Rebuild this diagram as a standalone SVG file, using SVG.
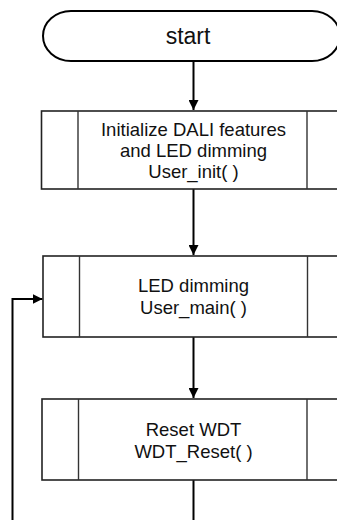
<svg xmlns="http://www.w3.org/2000/svg" width="337" height="520" viewBox="0 0 337 520">
  <style>
    .term { fill: #ffffff; stroke: #000000; stroke-width: 2; }
    .box { fill: #ffffff; stroke: #222222; stroke-width: 1.6; }
    .bar { stroke: #333333; stroke-width: 1.4; fill: none; }
    .wire { fill: none; stroke: #000000; stroke-width: 2; }
    .lbl { font-family: "Liberation Sans", Arial, sans-serif; font-size: 18.5px; fill: #111111; text-anchor: middle; }
    .big { font-size: 23px; }
  </style>
  <defs>
    <marker id="arrow" viewBox="0 0 10 10" refX="10" refY="5" markerWidth="10" markerHeight="10" markerUnits="userSpaceOnUse" orient="auto">
      <path d="M0,0 L10,5 L0,10 Z" fill="#000000"/>
    </marker>
  </defs>

  <!-- connectors -->
  <g id="connectors">
    <line class="wire" x1="193.5" y1="61" x2="193.5" y2="110" marker-end="url(#arrow)"/>
    <line class="wire" x1="193.5" y1="189" x2="193.5" y2="255" marker-end="url(#arrow)"/>
    <line class="wire" x1="193.5" y1="337" x2="193.5" y2="398" marker-end="url(#arrow)"/>
    <line class="wire" x1="193.5" y1="480" x2="193.5" y2="520"/>
    <polyline class="wire" points="12.5,520 12.5,299 42.5,299" marker-end="url(#arrow)"/>
  </g>

  <!-- start terminator -->
  <g id="start">
    <path class="term" d="M71,11 L312,11 A28,25 0 0 1 312,61 L71,61 A28,25 0 0 1 71,11 Z"/>
    <text class="lbl big" x="188" y="44">start</text>
  </g>

  <!-- predefined process: User_init -->
  <g id="user-init">
    <rect class="box" x="41.5" y="111" width="304" height="78"/>
    <line class="bar" x1="78" y1="111" x2="78" y2="189"/>
    <line class="bar" x1="307" y1="111" x2="307" y2="189"/>
    <text class="lbl" x="193.5" y="136">Initialize DALI features</text>
    <text class="lbl" x="193.5" y="157">and LED dimming</text>
    <text class="lbl" x="193.5" y="178">User_init( )</text>
  </g>

  <!-- predefined process: User_main -->
  <g id="user-main">
    <rect class="box" x="43" y="256" width="304" height="81"/>
    <line class="bar" x1="79.5" y1="256" x2="79.5" y2="337"/>
    <line class="bar" x1="307.5" y1="256" x2="307.5" y2="337"/>
    <text class="lbl" x="193.5" y="292">LED dimming</text>
    <text class="lbl" x="193.5" y="314">User_main( )</text>
  </g>

  <!-- predefined process: WDT_Reset -->
  <g id="wdt-reset">
    <rect class="box" x="42" y="399" width="304" height="81"/>
    <line class="bar" x1="78.5" y1="399" x2="78.5" y2="480"/>
    <line class="bar" x1="307" y1="399" x2="307" y2="480"/>
    <text class="lbl" x="193.5" y="436">Reset WDT</text>
    <text class="lbl" x="193.5" y="458">WDT_Reset( )</text>
  </g>
</svg>
